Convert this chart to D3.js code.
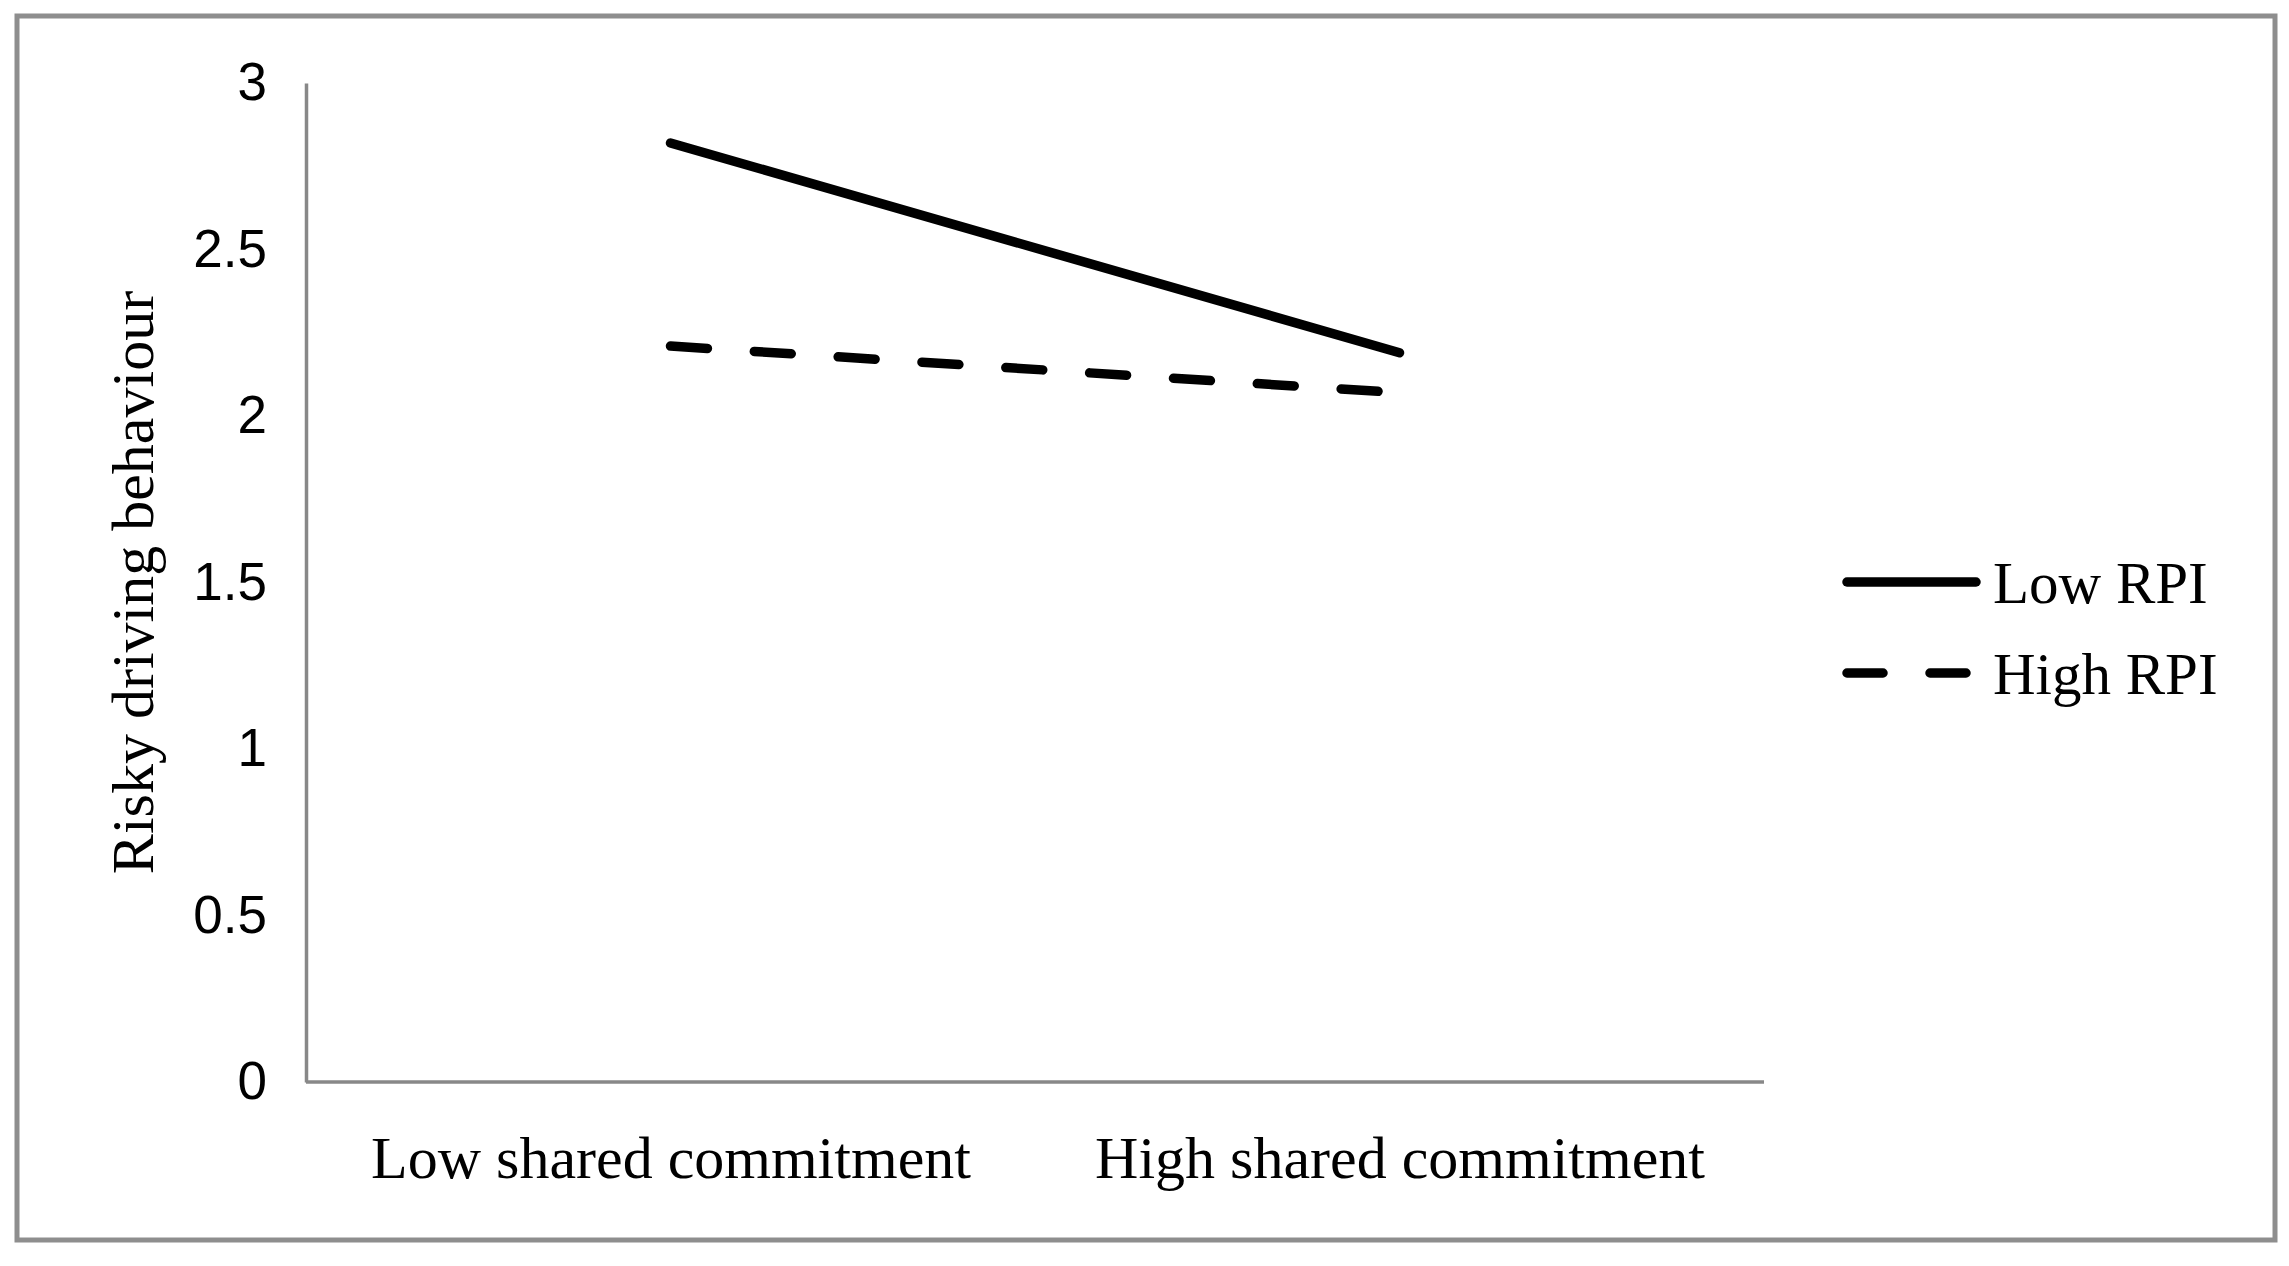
<!DOCTYPE html>
<html>
<head>
<meta charset="utf-8">
<script src="https://cdn.jsdelivr.net/npm/d3@7"></script>
<style>
  html, body { margin: 0; padding: 0; background: #fff; }
  svg { display: block; }
</style>
</head>
<body>
<div id="chart"></div>
<script>
// values
const categories = ["Low shared commitment", "High shared commitment"];
const seriesNames = ["Low RPI", "High RPI"];
const lowRPI = [2.82, 2.19];
const highRPI = [2.21, 2.07];
const yTicks = [0, 0.5, 1, 1.5, 2, 2.5, 3];

const width = 2289, height = 1266;
const plot = { left: 306, right: 1764, top: 83, bottom: 1082 };

const serif = "'Liberation Serif', 'Times New Roman', serif";
const sans = "'Liberation Sans Narrow', 'Liberation Sans', Arial, sans-serif";
const dashPattern = "37,47";

const svg = d3.select("#chart")
    .append("svg")
    .attr("width", width)
    .attr("height", height)
    .attr("viewBox", `0 0 ${width} ${height}`);

svg.append("rect")
    .attr("width", width).attr("height", height)
    .attr("fill", "#fff");

// outer frame
svg.append("rect")
    .attr("x", 17).attr("y", 16)
    .attr("width", 2258).attr("height", 1224)
    .attr("fill", "none")
    .attr("stroke", "#8e8e8e")
    .attr("stroke-width", 5);

const x = d3.scalePoint()
    .domain(categories)
    .range([plot.left, plot.right])
    .padding(0.5);

const y = d3.scaleLinear()
    .domain([0, 3])
    .range([plot.bottom, plot.top]);

// y axis
const yAxis = svg.append("g")
    .attr("transform", `translate(${plot.left},0)`)
    .call(d3.axisLeft(y).tickValues(yTicks).tickSize(0).tickPadding(39).tickFormat(d => String(d)));

yAxis.select(".domain").attr("stroke", "#888").attr("stroke-width", 3.5);
yAxis.selectAll("text")
    .attr("fill", "#000")
    .style("font-family", sans)
    .style("font-size", "53px");

// x axis
const xAxis = svg.append("g")
    .attr("transform", `translate(0,${plot.bottom})`)
    .call(d3.axisBottom(x).tickSize(0).tickSizeOuter(0));

xAxis.select(".domain")
    .attr("d", `M${plot.left},0H${plot.right}`)
    .attr("stroke", "#888").attr("stroke-width", 3.5);
xAxis.selectAll("text")
    .attr("fill", "#000")
    .attr("y", 96)
    .attr("dy", null)
    .style("font-family", serif)
    .style("font-size", "60px");

// axis title
svg.append("text")
    .attr("transform", `translate(153,${(plot.top + plot.bottom) / 2}) rotate(-90)`)
    .attr("text-anchor", "middle")
    .style("font-family", serif)
    .style("font-size", "60px")
    .attr("fill", "#000")
    .text("Risky driving behaviour");

// the two lines
const series = [
    { name: seriesNames[0], values: lowRPI, dash: null },
    { name: seriesNames[1], values: highRPI, dash: dashPattern }
];

const line = d3.line()
    .x((d, i) => x(categories[i]))
    .y(d => y(d));

svg.selectAll(".series")
    .data(series)
    .enter()
    .append("path")
        .attr("class", "series")
        .attr("d", d => line(d.values))
        .attr("fill", "none")
        .attr("stroke", "#000")
        .attr("stroke-width", 9.5)
        .attr("stroke-linecap", "round")
        .attr("stroke-dasharray", d => d.dash);

// legend
const legend = svg.append("g")
    .attr("transform", "translate(1847,0)");

const legendRows = legend.selectAll("g")
    .data(series)
    .enter()
    .append("g")
        .attr("transform", (d, i) => `translate(0,${i === 0 ? 582 : 673})`);

legendRows.append("line")
    .attr("x1", 0).attr("x2", 129)
    .attr("stroke", "#000")
    .attr("stroke-width", 9.5)
    .attr("stroke-linecap", "round")
    .attr("stroke-dasharray", d => d.dash ? "36,47" : null);

legendRows.append("text")
    .attr("x", 146)
    .attr("y", 21)
    .style("font-family", serif)
    .style("font-size", "59px")
    .attr("fill", "#000")
    .text(d => d.name);
</script>
</body>
</html>
